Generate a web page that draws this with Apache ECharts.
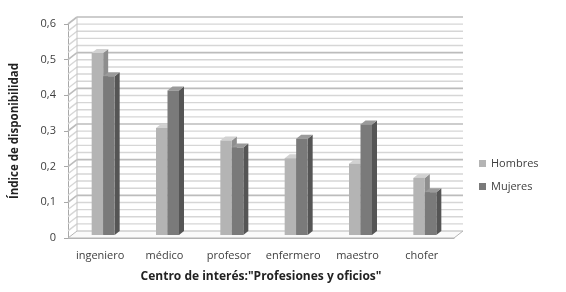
<!DOCTYPE html>
<html>
<head>
<meta charset="utf-8">
<script src="https://cdn.jsdelivr.net/npm/echarts@6/dist/echarts.min.js"></script>
<style>
  html, body { margin: 0; padding: 0; background: #fff; }
  #chart { width: 566px; height: 292px; }
</style>
</head>
<body>
<div id="chart"></div>
<script>
var categories = ['ingeniero', 'médico', 'profesor', 'enfermero', 'maestro', 'chofer'];
var hombres = [0.51, 0.30, 0.265, 0.215, 0.20, 0.16];
var mujeres = [0.445, 0.405, 0.245, 0.27, 0.31, 0.12];
var yMax = 0.6;
var yStep = 0.1;
var minorStep = 0.02;

// fake 3d depth of the back wall / bars
var DX = 9, DY = -7;
var BAR_W = 11.5, BAR_DX = 5, BAR_DY = -4;

var myChart = echarts.init(document.getElementById('chart'));

function renderWalls(params, api) {
    var cs = params.coordSys;
    var x0 = cs.x, x1 = cs.x + cs.width;
    var children = [];
    var y0 = api.coord([0, 0])[1];
    var yTop = api.coord([0, yMax])[1];
    // floor
    children.push({
        type: 'polygon',
        shape: {points: [[x0, y0], [x1, y0], [x1 + DX, y0 + DY], [x0 + DX, y0 + DY]]},
        style: {fill: '#fafafa', stroke: '#b5b5b5', lineWidth: 1}
    });
    var n = Math.round(yMax / minorStep);
    for (var k = 1; k <= n; k++) {
        var y = api.coord([0, k * minorStep])[1];
        var major = k % 5 === 0;
        var st = {stroke: major ? '#bcbcbc' : '#d6d6d6', lineWidth: major ? 1.6 : 1.4};
        children.push({type: 'line', shape: {x1: x0 + DX, y1: y + DY, x2: x1 + DX, y2: y + DY}, style: st});
        children.push({type: 'line', shape: {x1: x0, y1: y, x2: x0 + DX, y2: y + DY}, style: st});
    }
    children.push({type: 'line', shape: {x1: x0 + DX, y1: y0 + DY, x2: x0 + DX, y2: yTop + DY},
        style: {stroke: '#c4c4c4', lineWidth: 1}});
    return {type: 'group', children: children};
}

function barRenderer(shift, front, top, side) {
    return function (params, api) {
        var i = api.value(0), v = api.value(1);
        var pTop = api.coord([i, v]);
        var pBase = api.coord([i, 0]);
        var xl = pTop[0] + shift + 3;
        var xr = xl + BAR_W;
        var yt = pTop[1] - 3;
        var yb = pBase[1] - 3;
        return {
            type: 'group',
            children: [
                {type: 'polygon', shape: {points: [[xr, yt], [xr + BAR_DX, yt + BAR_DY], [xr + BAR_DX, yb + BAR_DY], [xr, yb]]},
                    style: {fill: side}},
                {type: 'polygon', shape: {points: [[xl, yt], [xr, yt], [xr + BAR_DX, yt + BAR_DY], [xl + BAR_DX, yt + BAR_DY]]},
                    style: {fill: top}},
                {type: 'rect', shape: {x: xl, y: yt, width: BAR_W, height: yb - yt},
                    style: {fill: front}}
            ]
        };
    };
}

option = {
    animation: false,
    textStyle: {fontFamily: 'Open Sans'},
    grid: {left: 68, right: 112, top: 24, bottom: 54},
    legend: {
        orient: 'vertical',
        left: 474,
        top: 153,
        itemWidth: 7,
        itemHeight: 7,
        itemGap: 12,
        icon: 'rect',
        textStyle: {fontSize: 11, color: '#404040'},
        data: ['Hombres', 'Mujeres']
    },
    xAxis: {
        type: 'category',
        data: categories,
        axisLine: {lineStyle: {color: '#b0b0b0'}},
        axisTick: {show: false},
        axisLabel: {fontSize: 11, color: '#404040', margin: 12, interval: 0},
        name: 'Centro de interés:"Profesiones y oficios"',
        nameLocation: 'middle',
        nameGap: 33,
        nameTextStyle: {fontSize: 12, fontWeight: 'bold', color: '#222'}
    },
    yAxis: {
        type: 'value',
        min: 0,
        max: yMax,
        interval: yStep,
        splitLine: {show: false},
        axisLine: {show: true, lineStyle: {color: '#a8a8a8'}},
        axisTick: {show: true, length: 4, lineStyle: {color: '#a8a8a8'}},
        axisLabel: {
            fontSize: 11, color: '#404040', margin: 12,
            formatter: function (v) { return String(v).replace('.', ','); }
        },
        name: 'Índice de disponibilidad',
        nameLocation: 'middle',
        nameGap: 47,
        nameTextStyle: {fontSize: 11.5, fontWeight: 'bold', color: '#222'}
    },
    series: [
        {
            name: 'walls',
            type: 'custom',
            silent: true,
            clip: false,
            renderItem: renderWalls,
            data: [[0, 0]]
        },
        {
            name: 'Hombres',
            type: 'custom',
            clip: false,
            itemStyle: {color: '#b4b4b4'},
            renderItem: barRenderer(-11.5, '#b4b4b4', '#d2d2d2', '#8e8e8e'),
            data: hombres.map(function (v, i) { return [i, v]; })
        },
        {
            name: 'Mujeres',
            type: 'custom',
            clip: false,
            itemStyle: {color: '#7a7a7a'},
            renderItem: barRenderer(0, '#7a7a7a', '#9a9a9a', '#555555'),
            data: mujeres.map(function (v, i) { return [i, v]; })
        }
    ]
};

myChart.setOption(option);
</script>
</body>
</html>
